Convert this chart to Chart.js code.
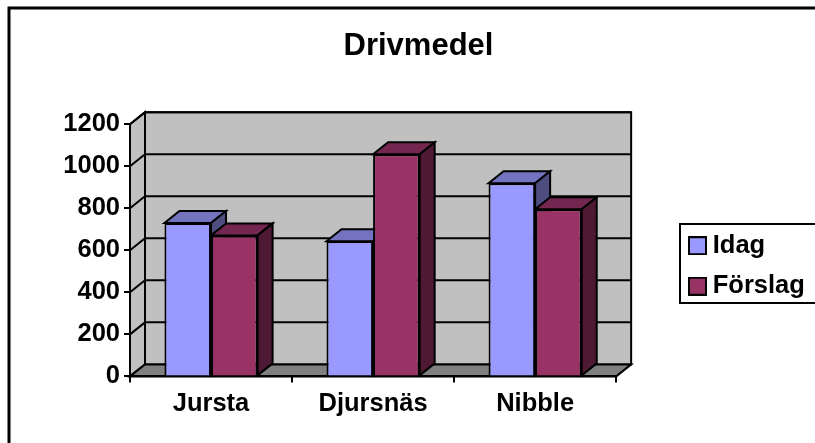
<!DOCTYPE html>
<html lang="en">
<head>
    <meta charset="UTF-8">
    <title>Drivmedel</title>
    <style>
        html, body { margin: 0; padding: 0; background: #fff; }
        canvas { display: block; }
    </style>
</head>
<body>
<script src="https://cdn.jsdelivr.net/npm/chart.js@4/dist/chart.umd.js"></script>
<canvas id="chart" width="815" height="443"></canvas>

<script>
const categories = ["Jursta", "Djursnäs", "Nibble"];
const idag = [730, 643, 919];
const forslag = [671, 1057, 795];
const yTicks = [0, 200, 400, 600, 800, 1000, 1200];

// depth of the fake 3d box, in pixels
const DX = 15;
const DY = 12;

function poly(ctx, pts, fill) {
    ctx.beginPath();
    ctx.moveTo(pts[0][0], pts[0][1]);
    for (let i = 1; i < pts.length; i++) ctx.lineTo(pts[i][0], pts[i][1]);
    ctx.closePath();
    ctx.fillStyle = fill;
    ctx.fill();
    ctx.stroke();
}

// legend square, the built in one leaves too wide a gap before the text
function swatch(color) {
    const c = document.createElement("canvas");
    c.width = 19;
    c.height = 19;
    const g = c.getContext("2d");
    g.fillStyle = color;
    g.fillRect(1, 1, 17, 17);
    g.lineWidth = 2;
    g.strokeStyle = "#000";
    g.strokeRect(1, 1, 17, 17);
    return c;
}

const box3d = {
    id: "box3d",
    afterLayout(chart) {
        // title and legend sit off the plot centre
        const t = chart.titleBlock;
        t.left = 22; t.right = 815; t.width = 793;
        const l = chart.legend;
        const w = l.width, h = l.height;
        l.left = 680; l.right = 680 + w;
        l.top = 218; l.bottom = 218 + h;
    },
    beforeDraw(chart) {
        const ctx = chart.ctx;
        const x = chart.scales.x, y = chart.scales.y;
        const x0 = x.left, x1 = x.right, y0 = y.bottom, y1 = y.top;
        ctx.save();
        ctx.strokeStyle = "#000";
        // outer frame
        ctx.lineWidth = 3;
        ctx.strokeRect(9, 8, 900, 500);
        ctx.lineWidth = 2;
        // back wall, side wall, floor
        poly(ctx, [[x0 + DX, y1 - DY], [x1 + DX, y1 - DY], [x1 + DX, y0 - DY], [x0 + DX, y0 - DY]], "#C0C0C0");
        poly(ctx, [[x0, y1], [x0 + DX, y1 - DY], [x0 + DX, y0 - DY], [x0, y0]], "#C0C0C0");
        poly(ctx, [[x0, y0], [x0 + DX, y0 - DY], [x1 + DX, y0 - DY], [x1, y0]], "#808080");
        // gridlines on the walls
        ctx.beginPath();
        yTicks.forEach(v => {
            if (v === 0) return;
            const py = y.getPixelForValue(v);
            ctx.moveTo(x0, py);
            ctx.lineTo(x0 + DX, py - DY);
            ctx.lineTo(x1 + DX, py - DY);
        });
        ctx.stroke();
        // legend frame
        ctx.strokeRect(680, 224, 200, 79);
        ctx.restore();
    },
    beforeDatasetsDraw(chart) {
        // chart.js paints the last dataset first, so all top and side faces go here, left bar first
        const ctx = chart.ctx;
        ctx.save();
        ctx.strokeStyle = "#000";
        ctx.lineWidth = 2;
        chart.data.datasets.forEach((ds, i) => {
            chart.getDatasetMeta(i).data.forEach(bar => {
                const l = bar.x - bar.width / 2, r = bar.x + bar.width / 2;
                poly(ctx, [[l, bar.y], [l + DX, bar.y - DY], [r + DX, bar.y - DY], [r, bar.y]], ds.topColor);
                poly(ctx, [[r, bar.y], [r + DX, bar.y - DY], [r + DX, bar.base - DY], [r, bar.base]], ds.sideColor);
            });
        });
        ctx.restore();
    }
};

new Chart(document.getElementById("chart"), {
    type: "bar",
    plugins: [box3d],
    data: {
        labels: categories,
        datasets: [{
            label: "Idag",
            data: idag,
            backgroundColor: "#9999FF",
            topColor: "#7373BF",
            sideColor: "#4D4D80",
            borderColor: "#000",
            borderWidth: 2
        }, {
            label: "Förslag",
            data: forslag,
            backgroundColor: "#993366",
            topColor: "#732650",
            sideColor: "#4D1933",
            borderColor: "#000",
            borderWidth: 2
        }]
    },
    options: {
        responsive: false,
        animation: false,
        devicePixelRatio: 1,
        layout: { padding: { left: 0, right: 64, top: 0, bottom: 18 } },
        datasets: { bar: { barPercentage: 1, categoryPercentage: 0.575 } },
        plugins: {
            tooltip: { enabled: false },
            title: {
                display: true,
                text: "Drivmedel",
                color: "#000",
                font: { family: "Liberation Sans", size: 31, weight: "bold" },
                padding: { top: 28, bottom: 59 }
            },
            legend: {
                position: "right",
                align: "start",
                labels: {
                    color: "#000",
                    usePointStyle: true,
                    pointStyleWidth: 5,
                    boxHeight: 17,
                    padding: 15,
                    font: { family: "Liberation Sans", size: 25.5, weight: "bold" },
                    generateLabels(chart) {
                        const items = Chart.defaults.plugins.legend.labels.generateLabels(chart);
                        items.forEach((item, i) => {
                            item.pointStyle = swatch(chart.data.datasets[i].backgroundColor);
                        });
                        return items;
                    }
                }
            }
        },
        scales: {
            x: {
                grid: { drawOnChartArea: false, color: "#000", lineWidth: 2, tickLength: 6 },
                border: { color: "#000", width: 2 },
                ticks: {
                    color: "#000",
                    maxRotation: 0,
                    padding: 6,
                    font: { family: "Liberation Sans", size: 25.5, weight: "bold" }
                }
            },
            y: {
                min: 0,
                max: 1200,
                afterFit(scale) { scale.width = 130; },
                afterBuildTicks(scale) { scale.ticks = yTicks.map(v => ({ value: v })); },
                grid: { drawOnChartArea: false, color: "#000", lineWidth: 2, tickLength: 6 },
                border: { color: "#000", width: 2 },
                ticks: {
                    color: "#000",
                    padding: 4,
                    font: { family: "Liberation Sans", size: 25.5, weight: "bold" },
                    callback: v => String(v)
                }
            }
        }
    }
});
</script>
</body>
</html>
